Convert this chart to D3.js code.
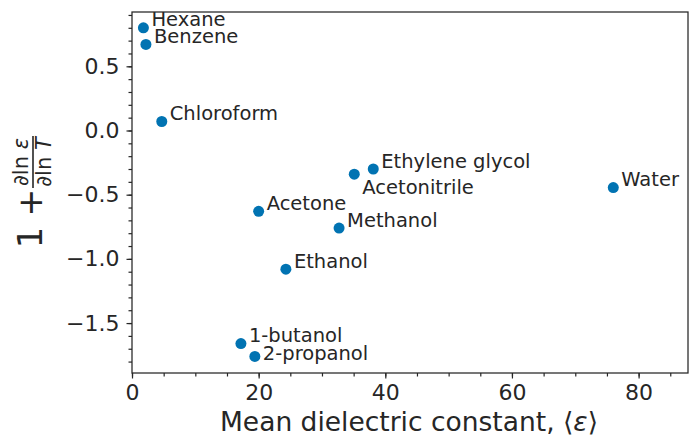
<!DOCTYPE html>
<html>
<head>
<meta charset="utf-8">
<script src="https://cdn.jsdelivr.net/npm/d3@7"></script>
<style>
  body { margin: 0; background: #fff; }
  text { font-family: "DejaVu Sans", sans-serif; fill: #262626; }
</style>
</head>
<body>
<svg id="chart" width="689" height="438"></svg>
<script>
// solvents, mean dielectric constant and 1 + dln(eps)/dln(T)
const solvents = ['Hexane', 'Benzene', 'Chloroform', 'Ethylene glycol', 'Acetonitrile', 'Water',
  'Acetone', 'Methanol', 'Ethanol', '1-butanol', '2-propanol']
const meanEps = [1.8, 2.2, 4.7, 38.1, 35.1, 76.0, 20.0, 32.7, 24.3, 17.2, 19.4]
const slope = [0.80, 0.67, 0.07, -0.30, -0.34, -0.445, -0.63, -0.76, -1.08, -1.66, -1.76]
const xTicks = [0, 20, 40, 60, 80]
const yTicks = [0.5, 0.0, -0.5, -1.0, -1.5]

// label nudges (px) for the two that sit below their dot
const labelDy = { 'Acetonitrile': 19.5, '2-propanol': 3.5 }

const svg = d3.select('#chart')
const padL = 132, padR = 688, padT = 12, padB = 373
const ink = '#262626'
const dotColor = '#0173b2'

const x = d3.scaleLinear().domain([0, 87.8]).range([padL, padR])
const y = d3.scaleLinear().domain([-1.889, 0.923]).range([padB, padT])

const fmt = d => d3.format('.1f')(d).replace('-', '\u2212')

// minor ticks
svg.append('g')
  .attr('transform', `translate(0,${padB})`)
  .call(d3.axisBottom(x).tickValues(d3.range(0, 88, 5)).tickSize(3.5).tickFormat(''))
svg.append('g')
  .attr('transform', `translate(${padL},0)`)
  .call(d3.axisLeft(y).tickValues(d3.range(-18, 10, 1).map(v => v / 10)).tickSize(3.5).tickFormat(''))

// major ticks
const xAxis = svg.append('g')
  .attr('transform', `translate(0,${padB})`)
  .call(d3.axisBottom(x).tickValues(xTicks).tickSize(5.5).tickPadding(6).tickFormat(d3.format('d')))
const yAxis = svg.append('g')
  .attr('transform', `translate(${padL},0)`)
  .call(d3.axisLeft(y).tickValues(yTicks).tickSize(5.5).tickPadding(7).tickFormat(fmt))

svg.selectAll('.domain').remove()
svg.selectAll('.tick line').style('stroke', ink).style('stroke-width', 1.2)
svg.selectAll('.tick text')
  .style('font-family', '"DejaVu Sans", sans-serif')
  .style('font-size', '22px')
  .style('fill', ink)

// frame
svg.append('rect')
  .attr('x', padL).attr('y', padT)
  .attr('width', padR - padL).attr('height', padB - padT)
  .attr('fill', 'none').attr('stroke', ink).attr('stroke-width', 1.25)

// dots
svg.selectAll('circle.dot')
  .data(solvents)
  .enter()
  .append('circle')
  .attr('class', 'dot')
  .attr('cx', (d, i) => x(meanEps[i]))
  .attr('cy', (d, i) => y(slope[i]))
  .attr('r', 5.5)
  .style('fill', dotColor)

// labels
svg.selectAll('text.lab')
  .data(solvents)
  .enter()
  .append('text')
  .attr('class', 'lab')
  .attr('x', (d, i) => x(meanEps[i]) + 8)
  .attr('y', (d, i) => y(slope[i]) + (labelDy[d] !== undefined ? labelDy[d] : -1.5))
  .style('font-size', '19.5px')
  .text(d => d)

// x label
const xl = svg.append('text')
  .attr('x', (padL + padR) / 2 - 1)
  .attr('y', 431)
  .attr('text-anchor', 'middle')
  .style('font-size', '26.5px')
xl.append('tspan').text('Mean dielectric constant, \u27E8')
xl.append('tspan').style('font-style', 'italic').text('\u03B5')
xl.append('tspan').text('\u27E9')

// y label: 1 + dln(eps)/dln(T), rotated
const yl = svg.append('g').attr('transform', 'translate(33,191) rotate(-90)')
yl.append('text')
  .attr('x', -57).attr('y', 9)
  .style('font-size', '33px')
  .text('1 +')
yl.append('line')
  .attr('x1', 3).attr('x2', 55).attr('y1', 0).attr('y2', 0)
  .attr('stroke', ink).attr('stroke-width', 1.6)
const num = yl.append('text').attr('x', 29).attr('y', -5).attr('text-anchor', 'middle').style('font-size', '21px')
num.append('tspan').text('\u2202ln ')
num.append('tspan').style('font-style', 'italic').text('\u03B5')
const den = yl.append('text').attr('x', 29).attr('y', 18).attr('text-anchor', 'middle').style('font-size', '21px')
den.append('tspan').text('\u2202ln ')
den.append('tspan').style('font-style', 'italic').text('T')
</script>
</body>
</html>
